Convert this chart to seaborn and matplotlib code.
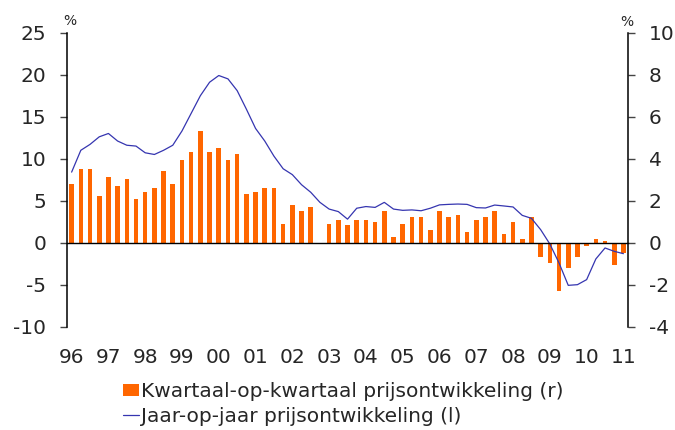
import numpy as np
import pandas as pd
import seaborn as sns
import matplotlib.pyplot as plt

# GEGEVENS (kwartalen 1996K1 - 2011K1)
jaren = list(range(1996, 2012))
jaar_labels = ["96", "97", "98", "99", "00", "01", "02", "03",
               "04", "05", "06", "07", "08", "09", "10", "11"]
kwartalen = [(j, k) for j in range(1996, 2011) for k in range(1, 5)] + [(2011, 1)]

# kwartaal-op-kwartaal (rechter as)
kwk = [2.81, 3.52, 3.52, 2.22, 3.13, 2.70, 3.02, 2.10, 2.41, 2.60,
       3.40, 2.81, 3.92, 4.30, 5.33, 4.30, 4.51, 3.92, 4.22, 2.32,
       2.41, 2.60, 2.60, 0.89, 1.79, 1.51, 1.70, -0.05, 0.89, 1.10,
       0.83, 1.10, 1.10, 0.98, 1.51, 0.29, 0.89, 1.21, 1.21, 0.62,
       1.51, 1.21, 1.32, 0.51, 1.10, 1.21, 1.51, 0.40, 0.98, 0.19,
       1.21, -0.70, -0.97, -2.30, -1.19, -0.70, -0.17, 0.17, 0.10, -1.08,
       -0.49]

# jaar-op-jaar (linker as)
jpj = [8.4, 11.0, 11.7, 12.6, 13.0, 12.1, 11.6, 11.5, 10.7, 10.5,
       11.0, 11.6, 13.3, 15.4, 17.5, 19.1, 19.9, 19.5, 18.1, 15.9,
       13.6, 12.1, 10.3, 8.8, 8.1, 6.9, 6.0, 4.8, 4.0, 3.7,
       2.8, 4.1, 4.3, 4.2, 4.8, 4.0, 3.85, 3.9, 3.8, 4.1,
       4.5, 4.56, 4.6, 4.56, 4.17, 4.13, 4.48, 4.37, 4.25, 3.25,
       2.9, 1.55, -0.16, -2.42, -5.08, -5.0, -4.4, -1.94, -0.63, -1.03,
       -1.31]

df = pd.DataFrame(kwartalen, columns=["jaar", "kwartaal"])
df["x"] = df["jaar"] + (df["kwartaal"] - 0.5) / 4
df["kwk"] = kwk
df["jpj"] = jpj

lbl_bar = "Kwartaal-op-kwartaal prijsontwikkeling (r)"
lbl_lijn = "Jaar-op-jaar prijsontwikkeling (l)"

sns.set_style("white")
plt.rcParams["font.family"] = ["DejaVu Sans"]
plt.rcParams["axes.unicode_minus"] = False

fig = plt.figure(figsize=(6.75, 4.3), dpi=100)
ax = fig.add_axes([0.0993, 0.2403, 0.8311, 0.6837])
ax2 = ax.twinx()

# STAVEN (rechts)
sns.barplot(data=df, x="x", y="kwk", ax=ax2, native_scale=True, width=0.5,
            color="#FF6600", saturation=1, errorbar=None, label=lbl_bar,
            linewidth=0)

# LIJN (links)
sns.lineplot(data=df, x="x", y="jpj", ax=ax, color="#3535B0", linewidth=0.9,
             label=lbl_lijn)

for a in (ax, ax2):
    if a.get_legend() is not None:
        a.get_legend().remove()

ax.set_zorder(ax2.get_zorder() + 1)
ax.patch.set_visible(False)

ax.set_xlim(1996, 2011.25)
ax.set_ylim(-10, 25)
ax2.set_ylim(-4, 10)
ax.set_yticks(range(-10, 30, 5))
ax2.set_yticks(range(-4, 12, 2))
ax.set_xlabel("")
ax.set_ylabel("")
ax2.set_ylabel("")

# assen
for s in ["top", "right"]:
    ax.spines[s].set_visible(False)
for s in ["top", "bottom", "left"]:
    ax2.spines[s].set_visible(False)
ax.spines["left"].set_linewidth(1.1)
ax2.spines["right"].set_linewidth(1.1)
ax.spines["left"].set_color("black")
ax2.spines["right"].set_color("black")
ax.spines["bottom"].set_position(("data", 0))
ax.spines["bottom"].set_color("black")
ax.spines["bottom"].set_linewidth(1.0)

ax.set_xticks(jaren)
ax.tick_params(axis="x", direction="out", length=5, width=0.8, color="#666666",
               labelbottom=False)
ax.tick_params(axis="y", direction="out", length=5, width=1, color="#444444",
               labelsize=14.5, pad=10, left=True)
ax2.tick_params(axis="y", direction="out", length=5, width=1, color="#444444",
                labelsize=14.5, pad=10, right=True)

sec = ax.secondary_xaxis(0)
sec.set_xticks([j + 0.125 for j in jaren], jaar_labels)
sec.tick_params(length=0, labelsize=14.5, pad=15)
sec.spines["bottom"].set_visible(False)

fig.text(70 / 675, 1 - 21 / 430, "%", fontsize=10, ha="center", va="center")
fig.text(627 / 675, 1 - 22 / 430, "%", fontsize=10, ha="center", va="center")

h2, l2 = ax2.get_legend_handles_labels()
h1, l1 = ax.get_legend_handles_labels()
fig.legend(h2 + h1, l2 + l1, loc="upper left",
           bbox_to_anchor=(123 / 675, 1 - 382 / 430), frameon=False,
           fontsize=14.5, handlelength=0.8, handleheight=0.55, handletextpad=0.1,
           labelspacing=0.3, borderpad=0, borderaxespad=0)

fig.savefig("out.png", dpi=100)
